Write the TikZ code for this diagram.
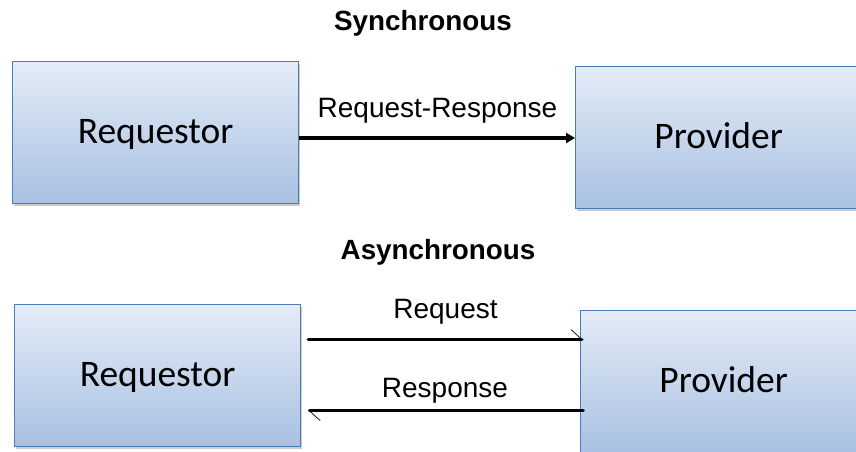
\documentclass[tikz,border=0pt]{standalone}
\usepackage{fontspec}
\setmainfont{Liberation Sans}
\newfontfamily\boxfont{Carlito}
\usetikzlibrary{arrows.meta,shadows}
\definecolor{boxborder}{HTML}{4A7EBB}
\definecolor{boxtop}{HTML}{E4ECF7}
\definecolor{boxbottom}{HTML}{A8C0E2}
\begin{document}
\begin{tikzpicture}[x=1pt,y=-1pt,
  box/.style={draw=boxborder, line width=1.3pt, top color=boxtop, bottom color=boxbottom,
    minimum width=286pt, minimum height=142pt, inner sep=0pt, anchor=north west,
    font=\boxfont\fontsize{37.5}{40}\selectfont, text height=26pt, text depth=5pt,
    drop shadow={shadow xshift=1.5pt, shadow yshift=-2pt, fill=black!45, opacity=0.45}},
  title/.style={font=\bfseries\fontsize{27.8}{32}\selectfont, anchor=base, inner sep=0pt},
  lbl/.style={font=\fontsize{28}{32}\selectfont, anchor=base, inner sep=0pt},
  syncline/.style={line width=3.6pt, -{Triangle[length=9pt,width=10pt]}},
  asyncline/.style={line width=3.6pt, line cap=round,
    -{Straight Barb[harpoon, length=11pt, width=20pt, line width=0.7pt]}}]
\useasboundingbox (0,0) rectangle (856,451);
% titles
\node[title] (t1) at (423,30) {Synchronous};
\node[title] (t2) at (438,259) {Asynchronous};
% synchronous
\node[box] (rq1) at (12,61) {Requestor};
\node[box] (pv1) at (575,66) {Provider};
\coordinate (y1) at (0,138);
\draw[syncline] (rq1.east |- y1) -- (pv1.west |- y1);
\node[lbl] (l1) at (437.5,117) {Request-Response};
% asynchronous
\node[box] (rq2) at (14,304) {Requestor};
\node[box] (pv2) at (580,310) {Provider};
\draw[asyncline] ([xshift=7pt,yshift=36pt]rq2.east) -- ([xshift=3pt,yshift=42pt]pv2.west);
\draw[asyncline] ([xshift=3pt,yshift=-29pt]pv2.west) -- ([xshift=7pt,yshift=-35pt]rq2.east);
\node[lbl] (l2) at (445.5,318) {Request};
\node[lbl] (l3) at (445,397) {Response};
\end{tikzpicture}
\end{document}
